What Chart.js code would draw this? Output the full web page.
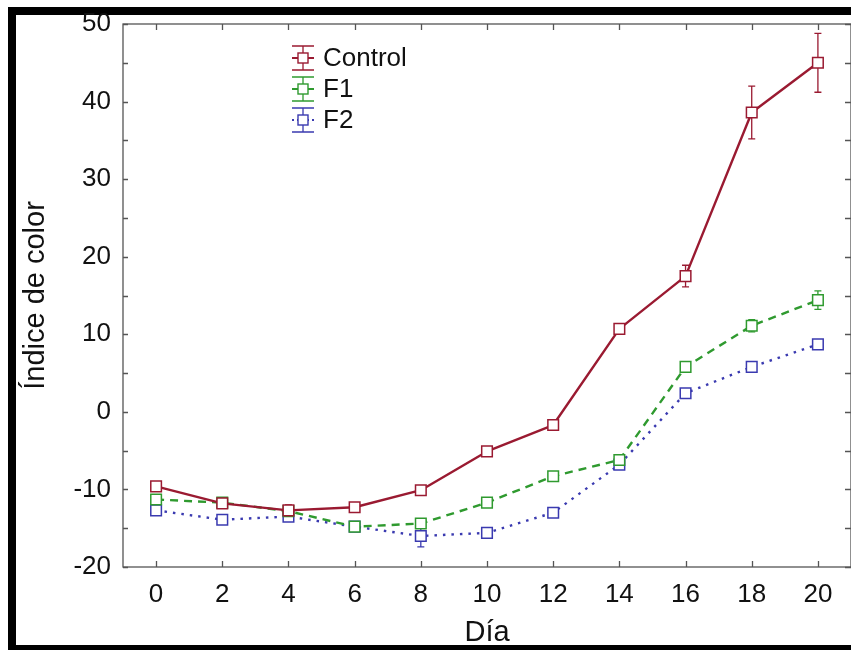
<!DOCTYPE html>
<html>
<head>
<meta charset="utf-8">
<script src="https://cdn.jsdelivr.net/npm/chart.js@4.4.1/dist/chart.umd.min.js"></script>
<style>
  html, body { margin: 0; padding: 0; background: #fff; }
  #c { display: block; }
</style>
</head>
<body>
<canvas id="c" width="851" height="650"></canvas>
<script>
// Sampling days and the colour index per treatment (mean and error)
const days = [0, 2, 4, 6, 8, 10, 12, 14, 16, 18, 20];
const controlMean = [-9.6, -11.8, -12.7, -12.3, -10.1, -5.1, -1.7, 10.7, 17.5, 38.6, 45.0];
const controlErr  = [0.3, 0.3, 0.7, 0.4, 0.4, 0.4, 0.4, 0.5, 1.4, 3.4, 3.8];
const f1Mean = [-11.3, -11.7, -12.8, -14.8, -14.4, -11.7, -8.3, -6.2, 5.8, 11.1, 14.4];
const f1Err  = [0.3, 0.3, 0.3, 0.3, 0.6, 0.3, 0.3, 0.3, 0.3, 0.8, 1.2];
const f2Mean = [-12.7, -13.9, -13.5, -14.8, -16.0, -15.6, -13.0, -6.8, 2.4, 5.8, 8.7];
const f2Err  = [0.6, 0.6, 0.3, 0.4, 1.4, 0.6, 0.5, 0.3, 0.3, 0.3, 0.5];
const seriesNames = ['Control', 'F1', 'F2'];
const yTicks = [-20, -10, 0, 10, 20, 30, 40, 50];
const yMinorTicks = [-15, -5, 5, 15, 25, 35, 45];
const xTitle = 'Día';
const yTitle = 'Índice de color';

// Line looks per series
const looks = [
  { color: '#9a1a31', dash: [] },
  { color: '#2f9a2f', dash: [8, 6] },
  { color: '#3a3ab0', dash: [2.5, 6] }
];

const means = [controlMean, f1Mean, f2Mean];
const errs = [controlErr, f1Err, f2Err];

const datasets = seriesNames.map((name, k) => ({
  label: name,
  data: days.map((d, j) => ({ x: d, y: means[k][j] })),
  borderColor: looks[k].color,
  borderWidth: 2.4,
  borderDash: looks[k].dash,
  borderJoinStyle: 'round',
  pointStyle: 'rect',
  pointRadius: 7.5,
  pointBorderWidth: 1.5,
  pointBackgroundColor: '#ffffff',
  pointBorderColor: looks[k].color,
  tension: 0
}));

const FONT = '"Liberation Sans", Arial, sans-serif';

const decor = {
  id: 'decor',
  beforeDraw(chart) {
    const ctx = chart.ctx;
    ctx.save();
    ctx.fillStyle = '#ffffff';
    ctx.fillRect(0, 0, chart.width, chart.height);
    // outer black frame
    ctx.fillStyle = '#000';
    ctx.fillRect(8, 7, chart.width - 8, 8);
    ctx.fillRect(8, 7, 8, chart.height - 7);
    ctx.fillRect(8, 645, chart.width - 8, 5);
    ctx.restore();
  },
  beforeDatasetsDraw(chart) {
    // error bars, underneath lines and markers
    const ctx = chart.ctx;
    const xs = chart.scales.x, ys = chart.scales.y;
    ctx.save();
    ctx.lineWidth = 1.3;
    ctx.setLineDash([]);
    for (let k = means.length - 1; k >= 0; k--) {
      ctx.strokeStyle = looks[k].color;
      days.forEach((d, j) => {
        const px = xs.getPixelForValue(d);
        const yt = ys.getPixelForValue(means[k][j] + errs[k][j]);
        const yb = ys.getPixelForValue(means[k][j] - errs[k][j]);
        ctx.beginPath();
        ctx.moveTo(px, yt); ctx.lineTo(px, yb);
        ctx.moveTo(px - 3.5, yt); ctx.lineTo(px + 3.5, yt);
        ctx.moveTo(px - 3.5, yb); ctx.lineTo(px + 3.5, yb);
        ctx.stroke();
      });
    }
    ctx.restore();
  },
  afterDatasetsDraw(chart) {
    const ctx = chart.ctx;
    const a = chart.chartArea;
    const xs = chart.scales.x, ys = chart.scales.y;
    ctx.save();
    // axis box
    ctx.strokeStyle = '#555';
    ctx.lineWidth = 1.3;
    ctx.setLineDash([]);
    ctx.strokeRect(a.left, a.top, a.right - a.left, a.bottom - a.top);
    // inward ticks
    ctx.beginPath();
    days.forEach(d => {
      const px = Math.round(xs.getPixelForValue(d)) + 0.5;
      ctx.moveTo(px, a.bottom); ctx.lineTo(px, a.bottom - 6);
      ctx.moveTo(px, a.top); ctx.lineTo(px, a.top + 6);
    });
    yTicks.concat(yMinorTicks).forEach(v => {
      const py = Math.round(ys.getPixelForValue(v)) + 0.5;
      ctx.moveTo(a.left, py); ctx.lineTo(a.left + 5, py);
      ctx.moveTo(a.right, py); ctx.lineTo(a.right - 6, py);
    });
    ctx.stroke();

    // legend
    ctx.font = '26px ' + FONT;
    ctx.textBaseline = 'middle';
    ctx.textAlign = 'left';
    seriesNames.forEach((name, k) => {
      const cx = 303, cy = 58 + k * 31;
      ctx.strokeStyle = looks[k].color;
      ctx.lineWidth = 1.3;
      ctx.setLineDash([]);
      ctx.beginPath();
      ctx.moveTo(cx, cy - 12); ctx.lineTo(cx, cy + 12);
      ctx.moveTo(cx - 11, cy - 12); ctx.lineTo(cx + 11, cy - 12);
      ctx.moveTo(cx - 11, cy + 12); ctx.lineTo(cx + 11, cy + 12);
      ctx.stroke();
      ctx.lineWidth = 2;
      ctx.setLineDash(k === 2 ? [2, 3] : []);
      ctx.beginPath();
      ctx.moveTo(cx - 11, cy); ctx.lineTo(cx + 11, cy);
      ctx.stroke();
      ctx.setLineDash([]);
      ctx.lineWidth = 1.4;
      ctx.fillStyle = '#fff';
      ctx.fillRect(cx - 5, cy - 5, 10, 10);
      ctx.strokeRect(cx - 5, cy - 5, 10, 10);
      ctx.fillStyle = '#111';
      ctx.fillText(name, 323, cy + 1);
    });
    ctx.restore();
  }
};

new Chart(document.getElementById('c'), {
  type: 'line',
  data: { datasets },
  plugins: [decor],
  options: {
    responsive: false,
    animation: false,
    events: [],
    layout: { autoPadding: false, padding: { top: 24, right: 0, left: 0, bottom: 0 } },
    plugins: { legend: { display: false }, tooltip: { enabled: false } },
    scales: {
      x: {
        type: 'linear',
        min: -1,
        max: 21,
        afterBuildTicks(s) { s.ticks = days.map(v => ({ value: v })); },
        afterFit(s) { s.height = 83; s.paddingLeft = 0; s.paddingRight = 0; },
        grid: { display: false, drawTicks: false },
        border: { display: false },
        ticks: {
          padding: 12,
          color: '#111',
          font: { family: FONT, size: 26 },
          maxRotation: 0,
          autoSkip: false
        },
        title: {
          display: true,
          text: xTitle,
          color: '#111',
          font: { family: FONT, size: 29 },
          padding: { top: 0, bottom: 0 }
        }
      },
      y: {
        min: -20,
        max: 50,
        afterBuildTicks(s) { s.ticks = yTicks.map(v => ({ value: v })); },
        afterFit(s) { s.width = 123; s.paddingTop = 0; s.paddingBottom = 0; },
        grid: { display: false, drawTicks: false },
        border: { display: false },
        ticks: {
          padding: 12,
          color: '#111',
          font: { family: FONT, size: 26 },
          autoSkip: false
        },
        title: {
          display: true,
          text: yTitle,
          color: '#111',
          font: { family: FONT, size: 29 },
          padding: { top: 19, bottom: 0 }
        }
      }
    }
  }
});
</script>
</body>
</html>
